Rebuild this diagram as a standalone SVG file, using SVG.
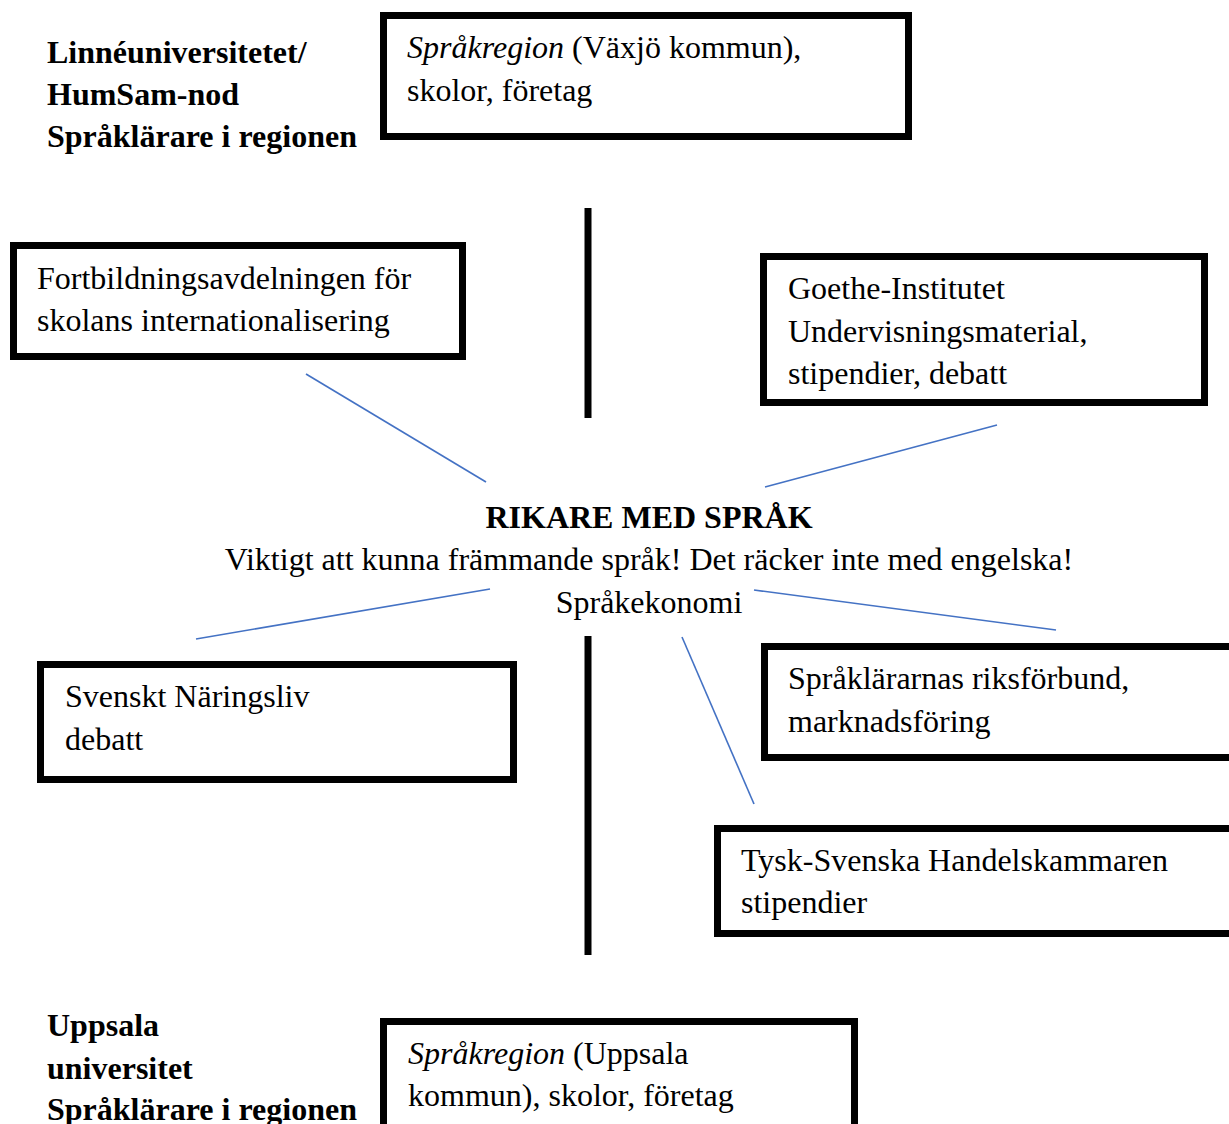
<svg xmlns="http://www.w3.org/2000/svg" width="1229" height="1124" viewBox="0 0 1229 1124">
<style>
text{font-family:"Liberation Serif","Times New Roman",serif;font-size:32px;fill:#000}
.b{font-weight:bold}
.i{font-style:italic}
.c{text-anchor:middle}
.box{fill:#fff;stroke:#000;stroke-width:7}
.bar{stroke:#000;stroke-width:7}
.link{stroke:#4472C4;stroke-width:1.6;fill:none}
</style>
<rect width="1229" height="1124" fill="#fff"/>
<g id="connectors">
<line class="bar" x1="588" y1="208" x2="588" y2="418"/>
<line class="bar" x1="588" y1="636" x2="588" y2="955"/>
<line class="link" x1="306" y1="374" x2="486" y2="482"/>
<line class="link" x1="765" y1="487" x2="997" y2="425"/>
<line class="link" x1="196" y1="639" x2="490" y2="589"/>
<line class="link" x1="754" y1="590" x2="1056" y2="630"/>
<line class="link" x1="682" y1="637" x2="754" y2="804"/>
</g>
<g id="linne">
<text class="b" x="47" y="63">Linnéuniversitetet/</text>
<text class="b" x="47" y="105">HumSam-nod</text>
<text class="b" x="47" y="147">Språklärare i regionen</text>
</g>
<g id="sprakregion-vaxjo">
<rect class="box" x="383.5" y="15.5" width="525" height="121"/>
<text x="407" y="58"><tspan class="i">Språkregion</tspan> (Växjö kommun),</text>
<text x="407" y="101">skolor, företag</text>
</g>
<g id="fortbildning">
<rect class="box" x="13.5" y="245.5" width="449" height="111"/>
<text x="37" y="289">Fortbildningsavdelningen för</text>
<text x="37" y="331">skolans internationalisering</text>
</g>
<g id="goethe">
<rect class="box" x="763.5" y="256.5" width="441" height="146"/>
<text x="788" y="299">Goethe-Institutet</text>
<text x="788" y="342">Undervisningsmaterial,</text>
<text x="788" y="384">stipendier, debatt</text>
</g>
<g id="center">
<text class="b c" x="649" y="528">RIKARE MED SPRÅK</text>
<text class="c" x="649" y="570">Viktigt att kunna främmande språk! Det räcker inte med engelska!</text>
<text class="c" x="649" y="613">Språkekonomi</text>
</g>
<g id="naringsliv">
<rect class="box" x="40.5" y="664.5" width="473" height="115"/>
<text x="65" y="707">Svenskt Näringsliv</text>
<text x="65" y="750">debatt</text>
</g>
<g id="sprakararnas">
<rect class="box" x="764.5" y="646.5" width="480" height="111"/>
<text x="788" y="689">Språklärarnas riksförbund,</text>
<text x="788" y="732">marknadsföring</text>
</g>
<g id="handelskammaren">
<rect class="box" x="717.5" y="828.5" width="520" height="105"/>
<text x="741" y="871">Tysk-Svenska Handelskammaren</text>
<text x="741" y="913">stipendier</text>
</g>
<g id="uppsala">
<text class="b" x="47" y="1036">Uppsala</text>
<text class="b" x="47" y="1079">universitet</text>
<text class="b" x="47" y="1120">Språklärare i regionen</text>
</g>
<g id="sprakregion-uppsala">
<rect class="box" x="383.5" y="1021.5" width="471" height="120"/>
<text x="408" y="1064"><tspan class="i">Språkregion</tspan> (Uppsala</text>
<text x="408" y="1106">kommun), skolor, företag</text>
</g>
</svg>
